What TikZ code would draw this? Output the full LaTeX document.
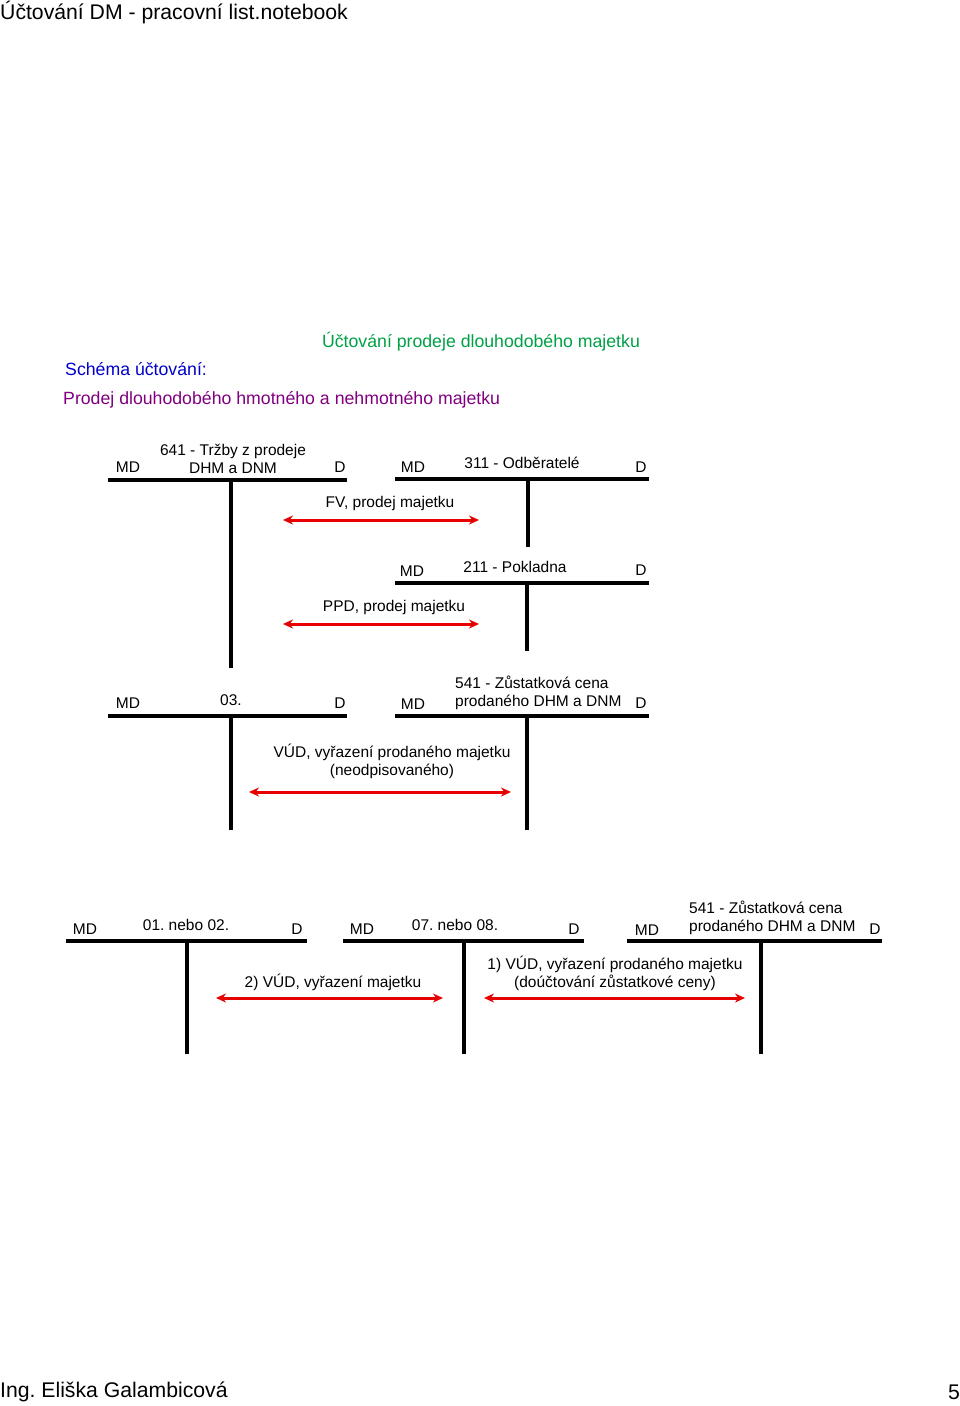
\documentclass[tikz,border=0pt]{standalone}
\usepackage{fontspec}
\setmainfont{Liberation Sans}
\usepackage{xcolor}
\usetikzlibrary{arrows.meta}

\definecolor{ucgreen}{RGB}{0,160,70}
\definecolor{ucblue}{RGB}{0,0,200}
\definecolor{ucpurple}{RGB}{128,0,128}
\definecolor{ucred}{RGB}{230,0,0}

\tikzset{
  txt/.style={inner sep=0pt,font=\fontsize{15.5}{18}\selectfont},
  big/.style={inner sep=0pt,font=\fontsize{21.2}{24}\selectfont},
  head/.style={inner sep=0pt,font=\fontsize{17.7}{20}\selectfont},
  acc/.style={line width=3.5pt},
  flow/.style={draw=ucred,line width=3pt,{Stealth[length=10pt,width=9pt]}-{Stealth[length=10pt,width=9pt]}}
}

\begin{document}
\frenchspacing
\begin{tikzpicture}[x=1pt,y=-1pt]
	\useasboundingbox (0,0) rectangle (960,1406);
	% page header and footer
	\node[big,anchor=west] (hdr) at (0,13) {Účtování DM - pracovní list.notebook};
	\node[big,anchor=west] (ftr) at (0,1392) {Ing. Eliška Galambicová};
	\node[big,anchor=east] (pg) at (960,1392) {5};
	%
	\node[head,ucgreen] (ttl) at (481,342) {Účtování prodeje dlouhodobého majetku};
	\node[head,ucblue,anchor=west] (sch) at (65,369) {Schéma účtování:};
	\node[head,ucpurple,anchor=west] (sub) at (63,400) {Prodej dlouhodobého hmotného a nehmotného majetku};
	%
	% account 641
	\coordinate (a1l) at (108,480);
	\coordinate (a1r) at (347,480);
	\coordinate (a1t) at (231,480);
	\coordinate (a1b) at (231,668);
	\node[txt] (a1md) at (128,467) {MD};
	\node[txt] (a1d) at (340,467) {D};
	\node[txt,align=center] (a1n) at (233,459) {641 - Tržby z prodeje\\DHM a DNM};
	% account 311
	\coordinate (a2l) at (395,479);
	\coordinate (a2r) at (649,479);
	\coordinate (a2t) at (528,479);
	\coordinate (a2b) at (528,547);
	\node[txt] (a2md) at (413,467) {MD};
	\node[txt] (a2d) at (641,467) {D};
	\node[txt] (a2n) at (522,463) {311 - Odběratelé};
	% account 211
	\coordinate (a3l) at (395,583);
	\coordinate (a3r) at (649,583);
	\coordinate (a3t) at (527,583);
	\coordinate (a3b) at (527,651);
	\node[txt] (a3md) at (412,571) {MD};
	\node[txt] (a3d) at (641,570) {D};
	\node[txt] (a3n) at (515,567) {211 - Pokladna};
	% account 03
	\coordinate (a4l) at (108,716);
	\coordinate (a4r) at (347,716);
	\coordinate (a4t) at (231,716);
	\coordinate (a4b) at (231,830);
	\node[txt] (a4md) at (128,703) {MD};
	\node[txt] (a4d) at (340,703) {D};
	\node[txt] (a4n) at (231,700) {03.};
	% account 541
	\coordinate (a5l) at (395,716);
	\coordinate (a5r) at (649,716);
	\coordinate (a5t) at (527,716);
	\coordinate (a5b) at (527,830);
	\node[txt] (a5md) at (413,704) {MD};
	\node[txt] (a5d) at (641,703) {D};
	\node[txt,align=left,anchor=west] (a5n) at (455,693) {541 - Zůstatková cena\\prodaného DHM a DNM};
	% account 01/02
	\coordinate (b1l) at (66,941);
	\coordinate (b1r) at (307,941);
	\coordinate (b1t) at (187,941);
	\coordinate (b1b) at (187,1054);
	\node[txt] (b1md) at (85,929) {MD};
	\node[txt] (b1d) at (297,929) {D};
	\node[txt] (b1n) at (186,925) {01. nebo 02.};
	% account 07/08
	\coordinate (b2l) at (343,941);
	\coordinate (b2r) at (584,941);
	\coordinate (b2t) at (464,941);
	\coordinate (b2b) at (464,1054);
	\node[txt] (b2md) at (362,929) {MD};
	\node[txt] (b2d) at (574,929) {D};
	\node[txt] (b2n) at (455,925) {07. nebo 08.};
	% account 541 (bottom)
	\coordinate (b3l) at (627,941);
	\coordinate (b3r) at (882,941);
	\coordinate (b3t) at (761,941);
	\coordinate (b3b) at (761,1054);
	\node[txt] (b3md) at (647,930) {MD};
	\node[txt] (b3d) at (875,929) {D};
	\node[txt,align=left,anchor=west] (b3n) at (689,918) {541 - Zůstatková cena\\prodaného DHM a DNM};
	%
	\foreach \k in {a1,a2,a3,a4,a5,b1,b2,b3}
	  \draw[acc] (\k l) -- (\k r) (\k t) -- (\k b);
	%
	% transfers
	\coordinate (f1a) at (283,520);
	\coordinate (f1b) at (479,520);
	\node[txt] (f1n) at (390,503) {FV, prodej majetku};
	\coordinate (f2a) at (283,624);
	\coordinate (f2b) at (479,624);
	\node[txt] (f2n) at (394,607) {PPD, prodej majetku};
	\coordinate (f3a) at (249,792);
	\coordinate (f3b) at (511,792);
	\node[txt,align=center] (f3n) at (392,761) {VÚD, vyřazení prodaného majetku\\(neodpisovaného)};
	\coordinate (f4a) at (216,998);
	\coordinate (f4b) at (443,998);
	\node[txt] (f4n) at (333,982) {2) VÚD, vyřazení majetku};
	\coordinate (f5a) at (484,998);
	\coordinate (f5b) at (745,998);
	\node[txt,align=center] (f5n) at (615,973) {1) VÚD, vyřazení prodaného majetku\\(doúčtování zůstatkové ceny)};
	%
	\foreach \k in {f1,f2,f3,f4,f5}
	  \draw[flow] (\k a) -- (\k b);
\end{tikzpicture}
\end{document}
